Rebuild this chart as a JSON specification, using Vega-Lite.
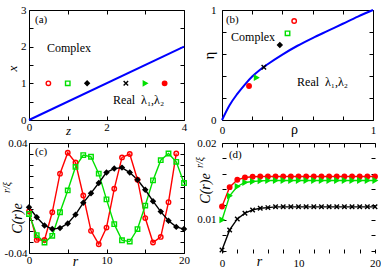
{
"$schema": "https://vega.github.io/schema/vega-lite/v6.json",
"padding": {"left": 1, "top": 4, "right": 0, "bottom": 1},
"background": "white",
"columns": 2,
"spacing": {"row": 23, "column": 38},
"bounds": "flush",
"datasets": {
 "a_line": [{"z": 0, "x": 0}, {"z": 4, "x": 2}],
 "a_pts": [{"z": 0.5, "x": 1}, {"z": 1, "x": 1}, {"z": 1.5, "x": 1}, {"z": 2.5, "x": 1}, {"z": 3, "x": 1}, {"z": 3.5, "x": 1}],
 "b_curve": [{"rho": 0, "eta": 0}, {"rho": 0.05, "eta": 0.135}, {"rho": 0.1, "eta": 0.235}, {"rho": 0.15, "eta": 0.32}, {"rho": 0.2, "eta": 0.395}, {"rho": 0.25, "eta": 0.455}, {"rho": 0.3, "eta": 0.505}, {"rho": 0.4, "eta": 0.595}, {"rho": 0.5, "eta": 0.675}, {"rho": 0.6, "eta": 0.745}, {"rho": 0.7, "eta": 0.81}, {"rho": 0.8, "eta": 0.875}, {"rho": 0.9, "eta": 0.94}, {"rho": 1, "eta": 1}],
 "b_pts": [{"z": 0.5, "rho": 0.478, "eta": 0.9}, {"z": 1, "rho": 0.434, "eta": 0.788}, {"z": 1.5, "rho": 0.383, "eta": 0.682}, {"z": 2.5, "rho": 0.277, "eta": 0.479}, {"z": 3, "rho": 0.228, "eta": 0.385}, {"z": 3.5, "rho": 0.179, "eta": 0.309}],
 "c": [
  {"z": 0.5, "r": 0, "C": -0.0097}, {"z": 0.5, "r": 1, "C": -0.0305}, {"z": 0.5, "r": 2, "C": -0.0305}, {"z": 0.5, "r": 3, "C": -0.0104}, {"z": 0.5, "r": 4, "C": 0.0177}, {"z": 0.5, "r": 5, "C": 0.0329}, {"z": 0.5, "r": 6, "C": 0.0258}, {"z": 0.5, "r": 7, "C": 0.0018}, {"z": 0.5, "r": 8, "C": -0.0239}, {"z": 0.5, "r": 9, "C": -0.0336}, {"z": 0.5, "r": 10, "C": -0.0215}, {"z": 0.5, "r": 11, "C": 0.0067}, {"z": 0.5, "r": 12, "C": 0.0295}, {"z": 0.5, "r": 13, "C": 0.032}, {"z": 0.5, "r": 14, "C": 0.0133}, {"z": 0.5, "r": 15, "C": -0.0146}, {"z": 0.5, "r": 16, "C": -0.0324}, {"z": 0.5, "r": 17, "C": -0.0283}, {"z": 0.5, "r": 18, "C": -0.003}, {"z": 0.5, "r": 19, "C": 0.0324},
  {"z": 1, "r": 0, "C": -0.0116}, {"z": 1, "r": 1, "C": -0.027}, {"z": 1, "r": 2, "C": -0.0324}, {"z": 1, "r": 3, "C": -0.0275}, {"z": 1, "r": 4, "C": -0.0104}, {"z": 1, "r": 5, "C": 0.0055}, {"z": 1, "r": 6, "C": 0.0226}, {"z": 1, "r": 7, "C": 0.0312}, {"z": 1, "r": 8, "C": 0.03}, {"z": 1, "r": 9, "C": 0.0177}, {"z": 1, "r": 10, "C": -0.001}, {"z": 1, "r": 11, "C": -0.019}, {"z": 1, "r": 12, "C": -0.0307}, {"z": 1, "r": 13, "C": -0.0317}, {"z": 1, "r": 14, "C": -0.0226}, {"z": 1, "r": 15, "C": -0.0055}, {"z": 1, "r": 16, "C": 0.0128}, {"z": 1, "r": 17, "C": 0.0275}, {"z": 1, "r": 18, "C": 0.0324}, {"z": 1, "r": 19, "C": 0.0263}, {"z": 1, "r": 20, "C": 0.0109},
  {"z": 1.5, "r": 0, "C": -0.0067}, {"z": 1.5, "r": 1, "C": -0.014}, {"z": 1.5, "r": 2, "C": -0.02}, {"z": 1.5, "r": 3, "C": -0.0226}, {"z": 1.5, "r": 4, "C": -0.0219}, {"z": 1.5, "r": 5, "C": -0.0185}, {"z": 1.5, "r": 6, "C": -0.0121}, {"z": 1.5, "r": 7, "C": -0.0035}, {"z": 1.5, "r": 8, "C": 0.0035}, {"z": 1.5, "r": 9, "C": 0.0109}, {"z": 1.5, "r": 10, "C": 0.0186}, {"z": 1.5, "r": 11, "C": 0.0214}, {"z": 1.5, "r": 12, "C": 0.0221}, {"z": 1.5, "r": 13, "C": 0.0185}, {"z": 1.5, "r": 14, "C": 0.0133}, {"z": 1.5, "r": 15, "C": 0.006}, {"z": 1.5, "r": 16, "C": -0.0023}, {"z": 1.5, "r": 17, "C": -0.0099}, {"z": 1.5, "r": 18, "C": -0.0165}, {"z": 1.5, "r": 19, "C": -0.021}, {"z": 1.5, "r": 20, "C": -0.0226}
 ],
 "d": [
  {"z": 3.5, "r": 0, "C": 0.01174}, {"z": 3.5, "r": 1, "C": 0.01426}, {"z": 3.5, "r": 2, "C": 0.01522}, {"z": 3.5, "r": 3, "C": 0.01552}, {"z": 3.5, "r": 4, "C": 0.01562}, {"z": 3.5, "r": 5, "C": 0.01565}, {"z": 3.5, "r": 6, "C": 0.01565}, {"z": 3.5, "r": 7, "C": 0.01565}, {"z": 3.5, "r": 8, "C": 0.01565}, {"z": 3.5, "r": 9, "C": 0.01565}, {"z": 3.5, "r": 10, "C": 0.01565}, {"z": 3.5, "r": 11, "C": 0.01565}, {"z": 3.5, "r": 12, "C": 0.01565}, {"z": 3.5, "r": 13, "C": 0.01565}, {"z": 3.5, "r": 14, "C": 0.01565}, {"z": 3.5, "r": 15, "C": 0.01565}, {"z": 3.5, "r": 16, "C": 0.01565}, {"z": 3.5, "r": 17, "C": 0.01565}, {"z": 3.5, "r": 18, "C": 0.01565}, {"z": 3.5, "r": 19, "C": 0.01565}, {"z": 3.5, "r": 20, "C": 0.01565},
  {"z": 3, "r": 0, "C": 0.01}, {"z": 3, "r": 1, "C": 0.01313}, {"z": 3, "r": 2, "C": 0.01435}, {"z": 3, "r": 3, "C": 0.01487}, {"z": 3, "r": 4, "C": 0.015}, {"z": 3, "r": 5, "C": 0.01508}, {"z": 3, "r": 6, "C": 0.01512}, {"z": 3, "r": 7, "C": 0.01513}, {"z": 3, "r": 8, "C": 0.01513}, {"z": 3, "r": 9, "C": 0.01513}, {"z": 3, "r": 10, "C": 0.01513}, {"z": 3, "r": 11, "C": 0.01513}, {"z": 3, "r": 12, "C": 0.01513}, {"z": 3, "r": 13, "C": 0.01513}, {"z": 3, "r": 14, "C": 0.01513}, {"z": 3, "r": 15, "C": 0.01513}, {"z": 3, "r": 16, "C": 0.01513}, {"z": 3, "r": 17, "C": 0.01513}, {"z": 3, "r": 18, "C": 0.01513}, {"z": 3, "r": 19, "C": 0.01513}, {"z": 3, "r": 20, "C": 0.01513},
  {"z": 2.5, "r": 0, "C": 0.00609}, {"z": 2.5, "r": 1, "C": 0.0087}, {"z": 2.5, "r": 2, "C": 0.01013}, {"z": 2.5, "r": 3, "C": 0.01087}, {"z": 2.5, "r": 4, "C": 0.0113}, {"z": 2.5, "r": 5, "C": 0.01152}, {"z": 2.5, "r": 6, "C": 0.0116}, {"z": 2.5, "r": 7, "C": 0.0117}, {"z": 2.5, "r": 8, "C": 0.0117}, {"z": 2.5, "r": 9, "C": 0.0117}, {"z": 2.5, "r": 10, "C": 0.0117}, {"z": 2.5, "r": 11, "C": 0.0117}, {"z": 2.5, "r": 12, "C": 0.0117}, {"z": 2.5, "r": 13, "C": 0.0117}, {"z": 2.5, "r": 14, "C": 0.0117}, {"z": 2.5, "r": 15, "C": 0.0117}, {"z": 2.5, "r": 16, "C": 0.0117}, {"z": 2.5, "r": 17, "C": 0.0117}, {"z": 2.5, "r": 18, "C": 0.0117}, {"z": 2.5, "r": 19, "C": 0.0117}, {"z": 2.5, "r": 20, "C": 0.0117}
 ]
},
"concat": [
 {
  "width": 155, "height": 110,
  "layer": [
   {"data": {"name": "a_line"}, "mark": {"type": "line", "color": "#0000ff", "strokeWidth": 2},
    "encoding": {
     "x": {"field": "z", "type": "quantitative", "scale": {"domain": [0, 4], "nice": false, "zero": false},
      "axis": {"orient": "bottom", "values": [0, 1, 2, 3, 4], "labelExpr": "datum.value === 0 ? '0' : (datum.value === 2 ? '2' : (datum.value === 4 ? '4' : ''))", "labelPadding": 5, "title": "z", "titleFontSize": 13, "titleFontStyle": "italic", "titleX": 39, "titleY": 14, "titleAlign": "center", "titleBaseline": "alphabetic"}},
     "y": {"field": "x", "type": "quantitative", "scale": {"domain": [0, 3], "nice": false, "zero": false},
      "axis": {"orient": "left", "values": [0, 0.5, 1, 1.5, 2, 2.5, 3], "labelExpr": "datum.value % 1 === 0 ? format(datum.value, 'd') : ''", "labelPadding": 7, "title": "x", "titleFontSize": 13, "titleFontStyle": "italic", "titleX": -17, "titleY": 58, "titleAngle": -90, "titleAlign": "center", "titleBaseline": "middle"}}
    }},
   {"data": {"name": "a_pts"}, "mark": {"type": "point", "opacity": 1, "strokeWidth": 1.4, "size": 20},
    "encoding": {
     "x": {"field": "z", "type": "quantitative", "axis": {"orient": "top", "values": [0, 1, 2, 3, 4], "labels": false, "title": null}},
     "y": {"field": "x", "type": "quantitative", "axis": {"orient": "right", "values": [0, 0.5, 1, 1.5, 2, 2.5, 3], "labels": false, "title": null}},
     "shape": {"field": "z", "type": "nominal", "legend": null, "scale": {"domain": [0.5, 1, 1.5, 2.5, 3, 3.5], "range": ["circle", "square", "diamond", "M-1,-1L1,1M-1,1L1,-1", "triangle-right", "circle"]}},
     "fill": {"field": "z", "type": "nominal", "legend": null, "scale": {"domain": [0.5, 1, 1.5, 2.5, 3, 3.5], "range": ["transparent", "transparent", "#000000", "transparent", "#00e000", "#ff0000"]}},
     "stroke": {"field": "z", "type": "nominal", "legend": null, "scale": {"domain": [0.5, 1, 1.5, 2.5, 3, 3.5], "range": ["#ff0000", "#00e000", "#000000", "#000000", "#00e000", "#ff0000"]}}
    }},
   {"data": {"values": [{}]}, "mark": {"type": "text", "text": "(a)", "align": "left", "baseline": "middle", "fontSize": 11},
    "encoding": {"x": {"datum": 0.155, "type": "quantitative", "axis": null}, "y": {"datum": 2.73, "type": "quantitative", "axis": null}}},
   {"data": {"values": [{}]}, "mark": {"type": "text", "text": "Complex", "align": "left", "baseline": "middle", "fontSize": 12},
    "encoding": {"x": {"datum": 0.465, "type": "quantitative", "axis": null}, "y": {"datum": 1.96, "type": "quantitative", "axis": null}}},
   {"data": {"values": [{}]}, "mark": {"type": "text", "text": "Real\u00a0 λ₁,λ₂", "align": "left", "baseline": "middle", "fontSize": 12},
    "encoding": {"x": {"datum": 2.17, "type": "quantitative", "axis": null}, "y": {"datum": 0.545, "type": "quantitative", "axis": null}}}
  ],
  "resolve": {"axis": {"x": "independent", "y": "independent"}}
 },
 {
  "width": 151, "height": 110,
  "layer": [
   {"data": {"name": "b_curve"}, "mark": {"type": "line", "color": "#0000ff", "strokeWidth": 2, "interpolate": "monotone"},
    "encoding": {
     "x": {"field": "rho", "type": "quantitative", "scale": {"domain": [0, 1], "nice": false, "zero": false},
      "axis": {"orient": "bottom", "values": [0, 0.2, 0.4, 0.6, 0.8, 1], "labelExpr": "datum.value === 0 ? '0' : (datum.value === 1 ? '1' : '')", "labelPadding": 8, "title": "ρ", "titleFontSize": 14, "titleX": 72, "titleY": 13, "titleAlign": "center", "titleBaseline": "alphabetic"}},
     "y": {"field": "eta", "type": "quantitative", "scale": {"domain": [0, 1], "nice": false, "zero": false},
      "axis": {"orient": "left", "values": [0, 0.2, 0.4, 0.6, 0.8, 1], "labelExpr": "datum.value === 0 ? '0' : (datum.value === 1 ? '1' : '')", "labelPadding": 10, "title": "η", "titleFontSize": 15, "titleX": -14, "titleY": 45, "titleAngle": -90, "titleAlign": "center", "titleBaseline": "middle"}}
    }},
   {"data": {"name": "b_pts"}, "mark": {"type": "point", "opacity": 1, "strokeWidth": 1.4, "size": 20},
    "encoding": {
     "x": {"field": "rho", "type": "quantitative", "axis": {"orient": "top", "values": [0, 0.2, 0.4, 0.6, 0.8, 1], "labels": false, "title": null}},
     "y": {"field": "eta", "type": "quantitative", "axis": {"orient": "right", "values": [0, 0.2, 0.4, 0.6, 0.8, 1], "labels": false, "title": null}},
     "shape": {"field": "z", "type": "nominal", "legend": null, "scale": {"domain": [0.5, 1, 1.5, 2.5, 3, 3.5], "range": ["circle", "square", "diamond", "M-1,-1L1,1M-1,1L1,-1", "triangle-right", "circle"]}},
     "fill": {"field": "z", "type": "nominal", "legend": null, "scale": {"domain": [0.5, 1, 1.5, 2.5, 3, 3.5], "range": ["transparent", "transparent", "#000000", "transparent", "#00e000", "#ff0000"]}},
     "stroke": {"field": "z", "type": "nominal", "legend": null, "scale": {"domain": [0.5, 1, 1.5, 2.5, 3, 3.5], "range": ["#ff0000", "#00e000", "#000000", "#000000", "#00e000", "#ff0000"]}}
    }},
   {"data": {"values": [{}]}, "mark": {"type": "text", "text": "(b)", "align": "left", "baseline": "middle", "fontSize": 11},
    "encoding": {"x": {"datum": 0.026, "type": "quantitative", "axis": null}, "y": {"datum": 0.909, "type": "quantitative", "axis": null}}},
   {"data": {"values": [{}]}, "mark": {"type": "text", "text": "Complex", "align": "left", "baseline": "middle", "fontSize": 12},
    "encoding": {"x": {"datum": 0.06, "type": "quantitative", "axis": null}, "y": {"datum": 0.755, "type": "quantitative", "axis": null}}},
   {"data": {"values": [{}]}, "mark": {"type": "text", "text": "Real\u00a0 λ₁,λ₂", "align": "left", "baseline": "middle", "fontSize": 12},
    "encoding": {"x": {"datum": 0.497, "type": "quantitative", "axis": null}, "y": {"datum": 0.345, "type": "quantitative", "axis": null}}}
  ],
  "resolve": {"axis": {"x": "independent", "y": "independent"}}
 },
 {
  "width": 155, "height": 110,
  "layer": [
   {"data": {"name": "c"}, "mark": {"type": "line", "strokeWidth": 1.4},
    "encoding": {
     "x": {"field": "r", "type": "quantitative", "scale": {"domain": [0, 20], "nice": false, "zero": false},
      "axis": {"orient": "bottom", "values": [0, 5, 10, 15, 20], "labelExpr": "datum.value % 10 === 0 ? format(datum.value, 'd') : ''", "labelPadding": 5, "title": "r", "titleFontSize": 14, "titleFontStyle": "italic", "titleX": 46, "titleY": 12, "titleAlign": "center", "titleBaseline": "alphabetic"}},
     "y": {"field": "C", "type": "quantitative", "scale": {"domain": [-0.04, 0.04], "nice": false, "zero": false},
      "axis": {"orient": "left", "values": [-0.04, -0.032, -0.024, -0.016, -0.008, 0, 0.008, 0.016, 0.024, 0.032, 0.04], "labelExpr": "datum.value > 0.039 ? '0.04' : (datum.value < -0.039 ? '-0.04' : '')", "labelPadding": 6, "title": "C(r)e", "titleFontSize": 14, "titleFontStyle": "italic", "titleX": -12, "titleY": 75, "titleAngle": -90, "titleAlign": "center", "titleBaseline": "middle"}},
     "color": {"field": "z", "type": "nominal", "legend": null, "scale": {"domain": [0.5, 1, 1.5, 2.5, 3, 3.5], "range": ["#ff0000", "#00e000", "#000000", "#000000", "#00e000", "#ff0000"]}}
    }},
   {"data": {"name": "c"}, "mark": {"type": "point", "opacity": 1, "strokeWidth": 1.4, "size": 20},
    "encoding": {
     "x": {"field": "r", "type": "quantitative", "axis": {"orient": "top", "values": [0, 5, 10, 15, 20], "labels": false, "title": null}},
     "y": {"field": "C", "type": "quantitative", "axis": {"orient": "right", "values": [-0.04, -0.032, -0.024, -0.016, -0.008, 0, 0.008, 0.016, 0.024, 0.032, 0.04], "labels": false, "title": null}},
     "shape": {"field": "z", "type": "nominal", "legend": null, "scale": {"domain": [0.5, 1, 1.5, 2.5, 3, 3.5], "range": ["circle", "square", "diamond", "M-1,-1L1,1M-1,1L1,-1", "triangle-right", "circle"]}},
     "fill": {"field": "z", "type": "nominal", "legend": null, "scale": {"domain": [0.5, 1, 1.5, 2.5, 3, 3.5], "range": ["transparent", "transparent", "#000000", "transparent", "#00e000", "#ff0000"]}},
     "stroke": {"field": "z", "type": "nominal", "legend": null, "scale": {"domain": [0.5, 1, 1.5, 2.5, 3, 3.5], "range": ["#ff0000", "#00e000", "#000000", "#000000", "#00e000", "#ff0000"]}}
    }},
   {"data": {"values": [{}]}, "mark": {"type": "text", "text": "(c)", "align": "left", "baseline": "middle", "fontSize": 11},
    "encoding": {"x": {"datum": 0.77, "type": "quantitative", "axis": null},
     "y": {"datum": 0.0335, "type": "quantitative", "axis": {"orient": "left", "domain": false, "ticks": false, "labels": false, "title": "r/ξ", "titleFontSize": 10, "titleFontStyle": "italic", "titleX": -23, "titleY": 44, "titleAngle": -90, "titleAlign": "center", "titleBaseline": "middle"}}}}
  ],
  "resolve": {"axis": {"x": "independent", "y": "independent"}}
 },
 {
  "width": 153, "height": 110,
  "layer": [
   {"data": {"name": "d"}, "mark": {"type": "line", "strokeWidth": 1.4},
    "encoding": {
     "x": {"field": "r", "type": "quantitative", "scale": {"domain": [0, 20], "nice": false, "zero": false},
      "axis": {"orient": "bottom", "domain": false, "values": [0, 2, 4, 6, 8, 10, 12, 14, 16, 18, 20], "labelExpr": "datum.value % 10 === 0 ? format(datum.value, 'd') : ''", "labelPadding": 8, "title": "r", "titleFontSize": 14, "titleFontStyle": "italic", "titleX": 37, "titleY": 12, "titleAlign": "center", "titleBaseline": "alphabetic"}},
     "y": {"field": "C", "type": "quantitative", "scale": {"domain": [0.0057, 0.02], "nice": false, "zero": false},
      "axis": {"orient": "left", "domain": false, "values": [0.006, 0.008, 0.01, 0.012, 0.014, 0.016, 0.018, 0.02], "labelExpr": "abs(datum.value - 0.01) < 0.0001 ? '0.01' : (abs(datum.value - 0.02) < 0.0001 ? '0.02' : '')", "labelPadding": 10, "title": "C(r)e", "titleFontSize": 14, "titleFontStyle": "italic", "titleX": -17, "titleY": 45, "titleAngle": -90, "titleAlign": "center", "titleBaseline": "middle"}},
     "color": {"field": "z", "type": "nominal", "legend": null, "scale": {"domain": [0.5, 1, 1.5, 2.5, 3, 3.5], "range": ["#ff0000", "#00e000", "#000000", "#000000", "#00e000", "#ff0000"]}}
    }},
   {"data": {"name": "d"}, "mark": {"type": "point", "opacity": 1, "strokeWidth": 1.4, "size": 20},
    "encoding": {
     "x": {"field": "r", "type": "quantitative", "axis": {"orient": "top", "values": [0, 2, 4, 6, 8, 10, 12, 14, 16, 18, 20], "labels": false, "title": null}},
     "y": {"field": "C", "type": "quantitative", "axis": {"orient": "right", "domain": false, "values": [0.006, 0.008, 0.01, 0.012, 0.014, 0.016, 0.018, 0.02], "labels": false, "title": null}},
     "shape": {"field": "z", "type": "nominal", "legend": null, "scale": {"domain": [0.5, 1, 1.5, 2.5, 3, 3.5], "range": ["circle", "square", "diamond", "M-1,-1L1,1M-1,1L1,-1", "triangle-right", "circle"]}},
     "fill": {"field": "z", "type": "nominal", "legend": null, "scale": {"domain": [0.5, 1, 1.5, 2.5, 3, 3.5], "range": ["transparent", "transparent", "#000000", "transparent", "#00e000", "#ff0000"]}},
     "stroke": {"field": "z", "type": "nominal", "legend": null, "scale": {"domain": [0.5, 1, 1.5, 2.5, 3, 3.5], "range": ["#ff0000", "#00e000", "#000000", "#000000", "#00e000", "#ff0000"]}}
    }},
   {"data": {"values": [{}]}, "mark": {"type": "text", "text": "(d)", "align": "left", "baseline": "middle", "fontSize": 11},
    "encoding": {"x": {"datum": 0.91, "type": "quantitative", "axis": null},
     "y": {"datum": 0.01844, "type": "quantitative", "axis": {"orient": "left", "domain": false, "ticks": false, "labels": false, "title": "r/ξ", "titleFontSize": 10, "titleFontStyle": "italic", "titleX": -23, "titleY": 19, "titleAngle": -90, "titleAlign": "center", "titleBaseline": "middle"}}}}
  ],
  "resolve": {"axis": {"x": "independent", "y": "independent"}}
 }
],
"config": {
 "view": {"stroke": null},
 "font": "Liberation Serif, Times New Roman, serif",
 "text": {"font": "Liberation Serif, Times New Roman, serif", "color": "#000000"},
 "axis": {"grid": false, "domainColor": "#000000", "domainWidth": 1, "tickColor": "#000000", "tickWidth": 1, "tickSize": -4, "labelColor": "#000000", "labelFont": "Liberation Serif, Times New Roman, serif", "labelFontSize": 11, "labelFlush": false, "labelOverlap": false, "titleColor": "#000000", "titleFont": "Liberation Serif, Times New Roman, serif", "titleFontWeight": "normal", "titlePadding": 0}
}
}
